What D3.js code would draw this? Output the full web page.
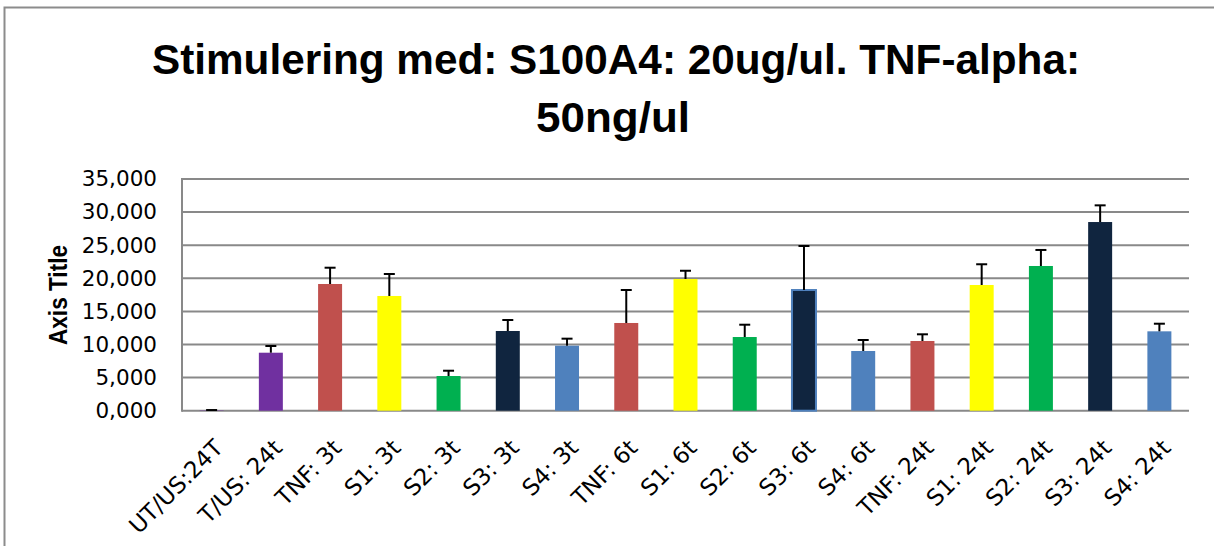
<!DOCTYPE html>
<html>
<head>
<meta charset="utf-8">
<script src="https://cdn.jsdelivr.net/npm/d3@7"></script>
<style>
  html, body { margin: 0; padding: 0; background: #fff; }
  svg { display: block; }
</style>
</head>
<body>
<svg id="chart" width="1214" height="546"></svg>
<script>
const categories = ["UT/US:24T", "T/US: 24t", "TNF: 3t", "S1: 3t", "S2: 3t", "S3: 3t", "S4: 3t",
  "TNF: 6t", "S1: 6t", "S2: 6t", "S3: 6t", "S4: 6t",
  "TNF: 24t", "S1: 24t", "S2: 24t", "S3: 24t", "S4: 24t"];
const values = [50, 8760, 19140, 17330, 5240, 12040, 9820, 13250, 19890, 11130, 18230, 9020,
  10530, 18990, 21860, 28500, 11990];
const errors = [50, 1010, 2460, 3320, 800, 1660, 1060, 4980, 1250, 1860, 6650, 1660,
  1010, 3130, 2420, 2520, 1150];
const barColors = ["#7030a0", "#7030a0", "#c0504d", "#ffff00", "#00b050", "#10253f", "#4f81bd",
  "#c0504d", "#ffff00", "#00b050", "#10253f", "#4f81bd",
  "#c0504d", "#ffff00", "#00b050", "#10253f", "#4f81bd"];
const outlined = [false, false, false, false, false, false, false, false, false, false, true, false,
  false, false, false, false, false];
const yTicks = [0, 5000, 10000, 15000, 20000, 25000, 30000, 35000];
const titleLines = ["Stimulering med: S100A4: 20ug/ul. TNF-alpha:", "50ng/ul"];
const yAxisTitle = "Axis Title";

const svg = d3.select("#chart");
const W = 1214, H = 546;
const plot = { left: 182, right: 1189, top: 179, bottom: 410.7 };
const grid = "#898989";

// outer chart border
svg.append("rect").attr("x", 4.5).attr("y", 7.5).attr("width", W + 10).attr("height", H + 10)
  .attr("fill", "#fff").attr("stroke", "#8c8c8c").attr("stroke-width", 2);

const x = d3.scaleBand().domain(categories).range([plot.left, plot.right])
  .paddingInner(0.595).paddingOuter(0.2975);
const y = d3.scaleLinear().domain([0, 35000]).range([plot.bottom, plot.top]);

const fmt = v => d3.format(",.3f")(v / 1000).replace(".", ","); // 35,000 style

// gridlines
svg.append("g").selectAll("line").data(yTicks).join("line")
  .attr("x1", plot.left).attr("x2", plot.right)
  .attr("y1", d => y(d)).attr("y2", d => y(d))
  .attr("stroke", grid).attr("stroke-width", 2);

// left axis line
svg.append("line").attr("x1", plot.left).attr("x2", plot.left)
  .attr("y1", plot.top - 1).attr("y2", plot.bottom + 1)
  .attr("stroke", grid).attr("stroke-width", 2);

// y axis via d3.axisLeft (labels only)
const yAxis = svg.append("g").attr("transform", `translate(${plot.left},0)`)
  .call(d3.axisLeft(y).tickValues(yTicks).tickSize(0).tickPadding(25)
    .tickFormat(d => fmt(d)));
yAxis.select(".domain").remove();
yAxis.selectAll("text").attr("font-family", "DejaVu Sans").attr("font-size", 21.5).attr("fill", "#000");

// bars
svg.append("g").selectAll("rect").data(categories).join("rect")
  .attr("x", d => x(d)).attr("width", x.bandwidth())
  .attr("y", (d, i) => y(values[i]))
  .attr("height", (d, i) => y(0) - y(values[i]))
  .attr("fill", (d, i) => barColors[i])
  .attr("stroke", (d, i) => outlined[i] ? "#4f81bd" : "none")
  .attr("stroke-width", 2);

// error bars (plus direction)
const eg = svg.append("g").attr("stroke", "#000").attr("stroke-width", 2);
categories.forEach((c, i) => {
  const cx = x(c) + x.bandwidth() / 2;
  eg.append("line").attr("x1", cx).attr("x2", cx)
    .attr("y1", y(values[i])).attr("y2", y(values[i] + errors[i]));
  eg.append("line").attr("x1", cx - 5.5).attr("x2", cx + 5.5)
    .attr("y1", y(values[i] + errors[i])).attr("y2", y(values[i] + errors[i]));
});

// x labels
const xAxis = svg.append("g").attr("transform", `translate(0,${plot.bottom})`)
  .call(d3.axisBottom(x).tickSize(0).tickPadding(0));
xAxis.select(".domain").remove();
xAxis.selectAll(".tick text")
  .attr("font-family", "DejaVu Sans").attr("font-size", 23).attr("fill", "#000")
  .attr("text-anchor", "end")
  .attr("transform", "translate(7,33) rotate(-45)")
  .attr("dy", "0.35em").attr("y", 0).attr("x", 0);

// y axis title
svg.append("text")
  .attr("transform", "translate(67,295) rotate(-90)")
  .attr("text-anchor", "middle")
  .attr("font-family", "Liberation Sans").attr("font-weight", "bold").attr("font-size", 25)
  .attr("textLength", 100).attr("lengthAdjust", "spacingAndGlyphs")
  .text(yAxisTitle);

// title
svg.append("text").attr("x", 616).attr("y", 74).attr("text-anchor", "middle")
  .attr("font-family", "Liberation Sans").attr("font-weight", "bold").attr("font-size", 42)
  .attr("textLength", 928).attr("lengthAdjust", "spacingAndGlyphs")
  .text(titleLines[0]);
svg.append("text").attr("x", 613).attr("y", 132).attr("text-anchor", "middle")
  .attr("font-family", "Liberation Sans").attr("font-weight", "bold").attr("font-size", 42)
  .attr("textLength", 154).attr("lengthAdjust", "spacingAndGlyphs")
  .text(titleLines[1]);
</script>
</body>
</html>
